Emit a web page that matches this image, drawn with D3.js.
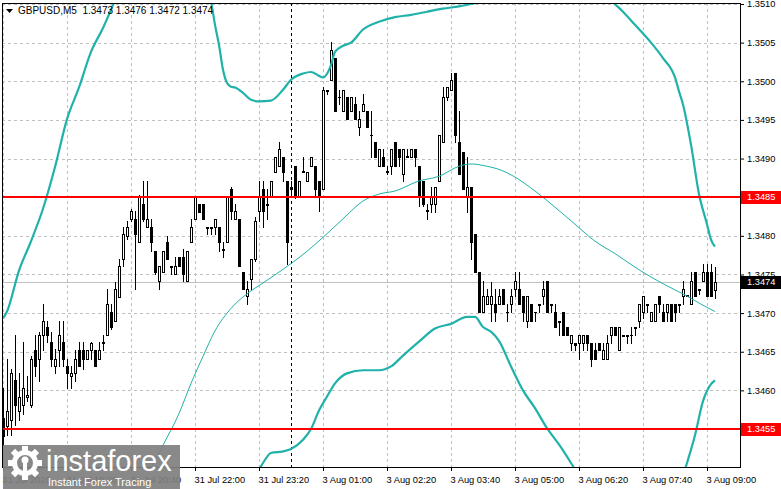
<!DOCTYPE html>
<html>
<head>
<meta charset="utf-8">
<script src="https://cdn.jsdelivr.net/npm/d3@7/dist/d3.min.js"></script>
<style>
html, body { margin: 0; padding: 0; background: #fff; }
svg { display: block; font-family: "Liberation Sans", Arial, sans-serif; }
</style>
</head>
<body>
<div id="chart"></div>
<script>
var symbol = "GBPUSD,M5";

// M5 bars, oldest first (31 Jul 18:00 ... 3 Aug 09:10)
var openP = [
  1.34564, 1.34554, 1.34561, 1.34613, 1.34573, 1.34581, 1.34592, 1.34581, 1.34652, 1.34641,
  1.34671, 1.34682, 1.34663, 1.34632, 1.34652, 1.34663, 1.34632, 1.34619, 1.34622, 1.34652,
  1.34652, 1.34641, 1.34652, 1.34652, 1.34641, 1.34661, 1.34671, 1.34702, 1.34690, 1.34721,
  1.34770, 1.34800, 1.34822, 1.34822, 1.34792, 1.34841, 1.34811, 1.34811, 1.34780, 1.34742,
  1.34753, 1.34792, 1.34761, 1.34751, 1.34773, 1.34773, 1.34742, 1.34792, 1.34822, 1.34841,
  1.34841, 1.34811, 1.34811, 1.34811, 1.34811, 1.34783, 1.34792, 1.34860, 1.34822, 1.34822,
  1.34753, 1.34722, 1.34744, 1.34770, 1.34832, 1.34860, 1.34841, 1.34851, 1.34882, 1.34890,
  1.34902, 1.34871, 1.34863, 1.34890, 1.34851, 1.34882, 1.34871, 1.34890, 1.34890, 1.34871,
  1.34860, 1.34989, 1.35002, 1.35030, 1.34980, 1.34961, 1.34980, 1.34961, 1.34970, 1.34941,
  1.34961, 1.34961, 1.34931, 1.34921, 1.34890, 1.34902, 1.34882, 1.34890, 1.34921, 1.34912,
  1.34880, 1.34902, 1.34902, 1.34912, 1.34890, 1.34871, 1.34832, 1.34841, 1.34841, 1.34871,
  1.34921, 1.34980, 1.34989, 1.35011, 1.34921, 1.34909, 1.34851, 1.34863, 1.34802, 1.34753,
  1.34702, 1.34712, 1.34712, 1.34712, 1.34712, 1.34731, 1.34701, 1.34712, 1.34731, 1.34731,
  1.34722, 1.34690, 1.34712, 1.34702, 1.34712, 1.34722, 1.34742, 1.34712, 1.34702, 1.34690,
  1.34702, 1.34682, 1.34661, 1.34661, 1.34661, 1.34661, 1.34671, 1.34661, 1.34652, 1.34661,
  1.34641, 1.34641, 1.34671, 1.34682, 1.34652, 1.34671, 1.34671, 1.34671, 1.34682, 1.34690,
  1.34702, 1.34712, 1.34690, 1.34690, 1.34722, 1.34702, 1.34702, 1.34712, 1.34712, 1.34712,
  1.34722, 1.34722, 1.34712, 1.34753, 1.34731, 1.34742, 1.34753, 1.34753, 1.34730
];
var highP = [
  1.34603, 1.34641, 1.34628, 1.34672, 1.34622, 1.34663, 1.34619, 1.34644, 1.34671, 1.34676,
  1.34712, 1.34690, 1.34676, 1.34654, 1.34690, 1.34690, 1.34641, 1.34632, 1.34652, 1.34663,
  1.34663, 1.34652, 1.34663, 1.34652, 1.34663, 1.34671, 1.34731, 1.34712, 1.34740, 1.34770,
  1.34811, 1.34819, 1.34835, 1.34832, 1.34853, 1.34871, 1.34871, 1.34822, 1.34780, 1.34761,
  1.34780, 1.34800, 1.34761, 1.34773, 1.34773, 1.34783, 1.34780, 1.34822, 1.34851, 1.34841,
  1.34841, 1.34811, 1.34811, 1.34822, 1.34811, 1.34792, 1.34850, 1.34863, 1.34841, 1.34822,
  1.34753, 1.34742, 1.34770, 1.34824, 1.34871, 1.34871, 1.34860, 1.34871, 1.34902, 1.34921,
  1.34902, 1.34871, 1.34871, 1.34890, 1.34871, 1.34902, 1.34882, 1.34902, 1.34890, 1.34871,
  1.34992, 1.34989, 1.35051, 1.35030, 1.34989, 1.34989, 1.34980, 1.34980, 1.34980, 1.34961,
  1.34983, 1.34961, 1.34961, 1.34921, 1.34912, 1.34912, 1.34890, 1.34912, 1.34921, 1.34912,
  1.34912, 1.34912, 1.34912, 1.34912, 1.34890, 1.34871, 1.34841, 1.34863, 1.34863, 1.34931,
  1.34992, 1.34992, 1.35011, 1.35011, 1.34961, 1.34909, 1.34902, 1.34863, 1.34802, 1.34753,
  1.34742, 1.34731, 1.34740, 1.34731, 1.34731, 1.34731, 1.34712, 1.34731, 1.34753, 1.34753,
  1.34722, 1.34722, 1.34712, 1.34702, 1.34712, 1.34742, 1.34742, 1.34712, 1.34712, 1.34690,
  1.34702, 1.34682, 1.34671, 1.34661, 1.34671, 1.34671, 1.34671, 1.34661, 1.34661, 1.34661,
  1.34661, 1.34671, 1.34682, 1.34682, 1.34682, 1.34671, 1.34671, 1.34682, 1.34682, 1.34712,
  1.34722, 1.34712, 1.34702, 1.34712, 1.34722, 1.34712, 1.34712, 1.34712, 1.34712, 1.34712,
  1.34742, 1.34724, 1.34753, 1.34753, 1.34731, 1.34764, 1.34764, 1.34764, 1.34760
];
var lowP = [
  1.34529, 1.34542, 1.34542, 1.34555, 1.34561, 1.34570, 1.34586, 1.34579, 1.34619, 1.34612,
  1.34652, 1.34663, 1.34632, 1.34622, 1.34632, 1.34632, 1.34603, 1.34603, 1.34612, 1.34632,
  1.34628, 1.34641, 1.34641, 1.34632, 1.34641, 1.34652, 1.34671, 1.34680, 1.34690, 1.34721,
  1.34761, 1.34796, 1.34819, 1.34731, 1.34792, 1.34819, 1.34811, 1.34780, 1.34751, 1.34731,
  1.34753, 1.34770, 1.34751, 1.34751, 1.34761, 1.34742, 1.34742, 1.34792, 1.34822, 1.34831,
  1.34822, 1.34802, 1.34802, 1.34802, 1.34780, 1.34773, 1.34792, 1.34822, 1.34822, 1.34761,
  1.34731, 1.34712, 1.34731, 1.34768, 1.34819, 1.34811, 1.34822, 1.34851, 1.34882, 1.34890,
  1.34871, 1.34764, 1.34851, 1.34849, 1.34851, 1.34882, 1.34871, 1.34890, 1.34851, 1.34832,
  1.34860, 1.34983, 1.35002, 1.34961, 1.34970, 1.34961, 1.34951, 1.34961, 1.34951, 1.34931,
  1.34961, 1.34941, 1.34902, 1.34902, 1.34890, 1.34890, 1.34880, 1.34880, 1.34890, 1.34890,
  1.34871, 1.34902, 1.34902, 1.34890, 1.34838, 1.34838, 1.34822, 1.34831, 1.34831, 1.34871,
  1.34921, 1.34976, 1.34989, 1.34921, 1.34880, 1.34860, 1.34831, 1.34770, 1.34753, 1.34702,
  1.34702, 1.34712, 1.34690, 1.34690, 1.34712, 1.34712, 1.34690, 1.34702, 1.34722, 1.34712,
  1.34690, 1.34682, 1.34690, 1.34690, 1.34702, 1.34712, 1.34702, 1.34702, 1.34682, 1.34671,
  1.34671, 1.34671, 1.34652, 1.34652, 1.34641, 1.34652, 1.34652, 1.34631, 1.34641, 1.34652,
  1.34641, 1.34641, 1.34661, 1.34671, 1.34652, 1.34670, 1.34661, 1.34661, 1.34671, 1.34682,
  1.34693, 1.34702, 1.34690, 1.34690, 1.34702, 1.34690, 1.34690, 1.34690, 1.34690, 1.34702,
  1.34712, 1.34722, 1.34712, 1.34722, 1.34725, 1.34742, 1.34722, 1.34722, 1.34720
];
var closeP = [
  1.34541, 1.34573, 1.34622, 1.34581, 1.34592, 1.34603, 1.34594, 1.34641, 1.34632, 1.34671,
  1.34690, 1.34671, 1.34641, 1.34641, 1.34671, 1.34641, 1.34622, 1.34622, 1.34641, 1.34632,
  1.34641, 1.34652, 1.34661, 1.34632, 1.34652, 1.34663, 1.34712, 1.34682, 1.34731, 1.34761,
  1.34802, 1.34811, 1.34832, 1.34802, 1.34850, 1.34822, 1.34822, 1.34792, 1.34753, 1.34761,
  1.34780, 1.34770, 1.34760, 1.34761, 1.34761, 1.34751, 1.34780, 1.34811, 1.34850, 1.34831,
  1.34822, 1.34810, 1.34810, 1.34822, 1.34792, 1.34782, 1.34850, 1.34832, 1.34832, 1.34761,
  1.34731, 1.34731, 1.34770, 1.34819, 1.34851, 1.34832, 1.34840, 1.34871, 1.34902, 1.34912,
  1.34882, 1.34792, 1.34860, 1.34851, 1.34871, 1.34884, 1.34882, 1.34902, 1.34860, 1.34851,
  1.34989, 1.34988, 1.35041, 1.34961, 1.34979, 1.34989, 1.34951, 1.34980, 1.34951, 1.34951,
  1.34970, 1.34941, 1.34930, 1.34902, 1.34912, 1.34890, 1.34884, 1.34912, 1.34890, 1.34902,
  1.34912, 1.34903, 1.34912, 1.34902, 1.34850, 1.34841, 1.34833, 1.34851, 1.34863, 1.34931,
  1.34980, 1.34992, 1.35002, 1.34931, 1.34880, 1.34860, 1.34863, 1.34792, 1.34753, 1.34702,
  1.34722, 1.34722, 1.34722, 1.34702, 1.34722, 1.34712, 1.34702, 1.34722, 1.34742, 1.34712,
  1.34702, 1.34722, 1.34690, 1.34701, 1.34711, 1.34731, 1.34702, 1.34711, 1.34682, 1.34689,
  1.34671, 1.34671, 1.34671, 1.34659, 1.34671, 1.34671, 1.34661, 1.34641, 1.34641, 1.34652,
  1.34652, 1.34661, 1.34682, 1.34671, 1.34682, 1.34670, 1.34670, 1.34672, 1.34681, 1.34712,
  1.34722, 1.34711, 1.34702, 1.34712, 1.34712, 1.34690, 1.34712, 1.34690, 1.34702, 1.34711,
  1.34731, 1.34724, 1.34742, 1.34722, 1.34730, 1.34753, 1.34722, 1.34722, 1.34740
];

// Bollinger bands (bar index -> price), null = break / off chart
var upperBar = [0, 1, 4, 7, 10, 13, 16, 19, 22, 25, 28, 30, null,
  50, 52, 53, 54, 55, 56, 57, 58, 60, 62, 64, 67, 70, 72, 75, 77, 79, 80, 82, 83, 85, 87, 90,
  94, 98, 102, 106, 110, 114, 118, 122, 124, null,
  150, 152, 155, 158, 162, 165, 168, 169, 170, 172, 174, 176, 177, 178];
var upperVal = [1.34693, 1.34702, 1.34755, 1.34793, 1.34835, 1.34889, 1.34951, 1.34992, 1.35038, 1.35069, 1.35105, 1.35131, null,
  1.35124, 1.35103, 1.35073, 1.35047, 1.35015, 1.34998, 1.34993, 1.34992, 1.34985, 1.34976, 1.34974, 1.34975, 1.34989, 1.35002, 1.35010, 1.35012, 1.35007, 1.35005, 1.35021, 1.35038, 1.35046, 1.35050, 1.35067,
  1.35077, 1.35083, 1.35086, 1.35090, 1.35094, 1.35097, 1.35101, 1.35105, 1.35115, null,
  1.35118, 1.35105, 1.35090, 1.35073, 1.35050, 1.35030, 1.35005, 1.34987, 1.34970, 1.34918, 1.34854, 1.34815, 1.34795, 1.34786];

var middleBar = [36, 40, 44, 47, 50, 53, 57, 61, 65, 67, 72, 76, 80, 85, 90, 94, 98, 104, 109, 114,
  117, 121, 124, 128, 133, 138, 143, 148, 153, 159, 165, 171, 174, 178];
var middleVal = [1.34489, 1.34529, 1.34570, 1.34609, 1.34644, 1.34677, 1.34706, 1.34725, 1.34739, 1.34746,
  1.34764, 1.34780, 1.34798, 1.34822, 1.34845, 1.34854, 1.34858, 1.34871, 1.34877, 1.34890,
  1.34893, 1.34890, 1.34886, 1.34876, 1.34858, 1.34837, 1.34815, 1.34793, 1.34777, 1.34756,
  1.34738, 1.34722, 1.34713, 1.34702];

var lowerBar = [63, 65, 67, 70, 72, 75, 77, 79, 81, 83, 86, 90, 94, 97, 100, 104, 108, 112, 116, 118,
  120, 122, 124, 127, 130, 133, 136, 139, 142, 144, null,
  170, 171, 173, 175, 177, 178];
var lowerVal = [1.34487, 1.34506, 1.34519, 1.34521, 1.34524, 1.34536, 1.34550, 1.34574, 1.34592, 1.34609,
  1.34622, 1.34626, 1.34626, 1.34631, 1.34645, 1.34663, 1.34680, 1.34686, 1.34695, 1.34695,
  1.34682, 1.34676, 1.34664, 1.34631, 1.34600, 1.34577, 1.34551, 1.34530, 1.34506, 1.34489, null,
  1.34489, 1.34506, 1.34542, 1.34586, 1.34608, 1.34613];

var timeTickBars = [0, 16, 32, 48, 64, 80, 96, 112, 128, 144, 160, 176];
var timeTickLabels = ["31 Jul 2026", "31 Jul 19:20", "31 Jul 20:40", "31 Jul 22:00", "31 Jul 23:20",
  "3 Aug 01:00", "3 Aug 02:20", "3 Aug 03:40", "3 Aug 05:00", "3 Aug 06:20", "3 Aug 07:40", "3 Aug 09:00"];
var priceTicks = [1.3455, 1.3460, 1.3465, 1.3470, 1.3475, 1.3480, 1.3485, 1.3490, 1.3495, 1.3500, 1.3505, 1.3510];
var levelLines = [1.3485, 1.3455];
var separatorBar = 72;

var W = 781, H = 489;
var plot = { left: 2, top: 3, right: 740, bottom: 467 };
var bandColor = "#20b2aa";
var fontSize = 9.3;

var svg = d3.select("#chart").append("svg")
    .attr("width", W)
    .attr("height", H);

var n = closeP.length;
var x = d3.scaleLinear().domain([0, n - 1]).range([3, 715]);
var y = d3.scaleLinear().domain([1.3455, 1.3510]).range([429, 4]);

function px(v) { return Math.round(v) + 0.5; }

svg.append("clipPath").attr("id", "plotClip")
    .append("rect")
    .attr("x", plot.left).attr("y", plot.top)
    .attr("width", plot.right - plot.left).attr("height", plot.bottom - plot.top);

var area = svg.append("g").attr("clip-path", "url(#plotClip)");

// grid
area.selectAll(".hgrid")
    .data(priceTicks)
    .enter().append("line")
        .attr("x1", plot.left).attr("x2", plot.right)
        .attr("y1", function(d) { return px(y(d)); })
        .attr("y2", function(d) { return px(y(d)); })
        .attr("stroke", "#c0c0c0")
        .attr("stroke-dasharray", "3,3");

area.selectAll(".vgrid")
    .data(timeTickBars)
    .enter().append("line")
        .attr("x1", function(d) { return px(x(d)); })
        .attr("x2", function(d) { return px(x(d)); })
        .attr("y1", plot.top).attr("y2", plot.bottom)
        .attr("stroke", "#c0c0c0")
        .attr("stroke-dasharray", "3,3");

// period separator
area.append("line")
    .attr("x1", px(x(separatorBar))).attr("x2", px(x(separatorBar)))
    .attr("y1", plot.top).attr("y2", plot.bottom)
    .attr("stroke", "#000")
    .attr("stroke-dasharray", "3,3");

// bid line
var last = n - 1;
area.append("line")
    .attr("x1", plot.left).attr("x2", plot.right)
    .attr("y1", px(y(closeP[last]))).attr("y2", px(y(closeP[last])))
    .attr("stroke", "#c0c0c0");

// candles
var bars = d3.range(n);
var candle = area.selectAll(".candle")
    .data(bars)
    .enter().append("g")
        .attr("class", "candle");

candle.append("line")
    .attr("x1", function(i) { return Math.round(x(i)) + 0.5; })
    .attr("x2", function(i) { return Math.round(x(i)) + 0.5; })
    .attr("y1", function(i) { return Math.round(y(highP[i])); })
    .attr("y2", function(i) { return Math.round(y(lowP[i])) + 1; })
    .attr("stroke", "#000");

candle.each(function(i) {
    var g = d3.select(this),
        cx = Math.round(x(i)),
        yt = Math.round(y(Math.max(openP[i], closeP[i]))),
        yb = Math.round(y(Math.min(openP[i], closeP[i])));
    if (yb - yt < 1) {
        g.append("line")
            .attr("x1", cx - 1).attr("x2", cx + 2)
            .attr("y1", yt + 0.5).attr("y2", yt + 0.5)
            .attr("stroke", "#000");
    } else {
        g.append("rect")
            .attr("x", cx - 0.5).attr("y", yt + 0.5)
            .attr("width", 2).attr("height", yb - yt)
            .attr("fill", closeP[i] >= openP[i] ? "#fff" : "#000")
            .attr("stroke", "#000");
    }
});

// bands
function bandLine(bars, vals) {
    return d3.line()
        .defined(function(d) { return d[1] !== null; })
        .x(function(d) { return x(d[0]); })
        .y(function(d) { return y(d[1]); })
        .curve(d3.curveMonotoneX)(d3.zip(bars, vals));
}

area.append("path").attr("d", bandLine(upperBar, upperVal))
    .attr("fill", "none").attr("stroke", bandColor).attr("stroke-width", 2.2);
area.append("path").attr("d", bandLine(lowerBar, lowerVal))
    .attr("fill", "none").attr("stroke", bandColor).attr("stroke-width", 2.2);
area.append("path").attr("d", bandLine(middleBar, middleVal))
    .attr("fill", "none").attr("stroke", bandColor).attr("stroke-width", 1);

// horizontal levels
area.selectAll(".level")
    .data(levelLines)
    .enter().append("line")
        .attr("x1", plot.left).attr("x2", plot.right)
        .attr("y1", function(d) { return Math.round(y(d)); })
        .attr("y2", function(d) { return Math.round(y(d)); })
        .attr("stroke", "#ff0000")
        .attr("stroke-width", 2);

// frame
svg.append("rect")
    .attr("x", plot.left + 0.5).attr("y", plot.top + 0.5)
    .attr("width", plot.right - plot.left).attr("height", plot.bottom - plot.top)
    .attr("fill", "none").attr("stroke", "#000");

// price axis
var yAxis = svg.append("g")
    .attr("transform", "translate(" + plot.right + ",0)")
    .call(d3.axisRight(y).tickValues(priceTicks).tickSize(4).tickPadding(3).tickFormat(d3.format(".4f")));
yAxis.select(".domain").remove();
yAxis.selectAll("text").attr("font-size", fontSize).attr("fill", "#000").attr("font-family", "Liberation Sans, Arial");

// time axis
var xAxis = svg.append("g")
    .attr("transform", "translate(0," + plot.bottom + ")")
    .call(d3.axisBottom(x).tickValues(timeTickBars).tickSize(4).tickPadding(5)
        .tickFormat(function(d, i) { return timeTickLabels[i]; }));
xAxis.select(".domain").remove();
xAxis.selectAll("text")
    .attr("text-anchor", "start")
    .attr("x", -1)
    .attr("font-size", fontSize).attr("fill", "#000").attr("font-family", "Liberation Sans, Arial");

// price tags
function priceTag(v, bg) {
    var yy = Math.round(y(v));
    svg.append("rect")
        .attr("x", plot.right + 1).attr("y", yy - 6)
        .attr("width", 40).attr("height", 13)
        .attr("fill", bg);
    svg.append("text")
        .attr("x", plot.right + 7).attr("y", yy)
        .attr("dy", "0.35em")
        .attr("font-size", fontSize)
        .attr("fill", "#fff")
        .text(d3.format(".4f")(v));
}
levelLines.forEach(function(v) { priceTag(v, "#ff0000"); });
priceTag(closeP[last], "#000");

// header
svg.append("path")
    .attr("d", "M6,9 L13,9 L9.5,13 Z")
    .attr("fill", "#000");
svg.append("text")
    .attr("x", 18).attr("y", 14)
    .attr("font-size", 10)
    .attr("fill", "#000")
    .style("white-space", "pre")
    .text(symbol + "  " + [openP[last], highP[last], lowP[last], closeP[last]]
        .map(function(v) { return v.toFixed(4); }).join(" "));

// watermark
var wm = svg.append("g");
wm.append("rect")
    .attr("x", 3).attr("y", 445)
    .attr("width", 177).attr("height", 44)
    .attr("fill", "#7f7f7f").attr("opacity", 0.92);

var gear = wm.append("g").attr("transform", "translate(25,463)").attr("fill", "#fff");
gear.append("path")
    .attr("d", d3.arc().innerRadius(8).outerRadius(13).startAngle(0).endAngle(2 * Math.PI)());
d3.range(8).forEach(function(k) {
    gear.append("rect")
        .attr("x", -3).attr("y", -17)
        .attr("width", 6).attr("height", 6)
        .attr("transform", "rotate(" + (k * 45) + ")");
});
gear.append("circle").attr("cx", 0).attr("cy", -3).attr("r", 3.5);
gear.append("rect").attr("x", -2).attr("y", 0).attr("width", 4).attr("height", 10);

wm.append("text")
    .attr("x", 46).attr("y", 471)
    .attr("font-size", 29)
    .attr("fill", "#fff")
    .text("instaforex");
wm.append("text")
    .attr("x", 48).attr("y", 486)
    .attr("font-size", 11)
    .attr("fill", "#fff")
    .text("Instant Forex Tracing");
</script>
</body>
</html>
